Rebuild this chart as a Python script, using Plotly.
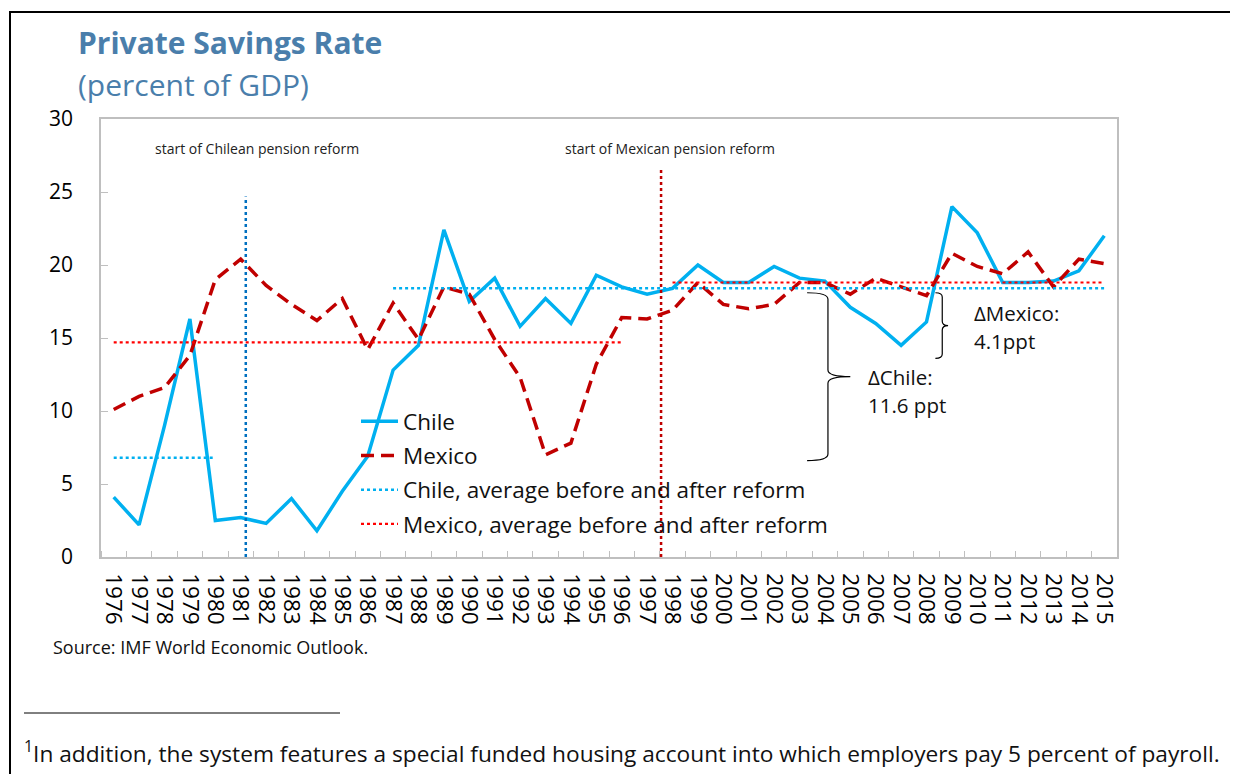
import plotly.graph_objects as go

years = list(range(1976, 2016))
chile = [4.1, 2.2, 9.0, 16.3, 2.5, 2.7, 2.3, 4.0, 1.8, 4.5,
         6.9, 12.8, 14.5, 22.4, 17.5, 19.1, 15.8, 17.7, 16.0, 19.3,
         18.5, 18.0, 18.4, 20.0, 18.8, 18.8, 19.9, 19.1, 18.9, 17.1,
         16.0, 14.5, 16.1, 24.0, 22.2, 18.8, 18.8, 18.9, 19.6, 22.0]
mexico = [10.1, 11.0, 11.6, 13.8, 19.0, 20.4, 18.6, 17.3, 16.2, 17.7,
          14.2, 17.4, 14.9, 18.5, 18.0, 14.9, 12.3, 7.0, 7.8, 13.2,
          16.4, 16.3, 16.9, 18.8, 17.3, 17.0, 17.3, 18.8, 18.8, 18.0,
          19.1, 18.5, 17.9, 20.8, 19.9, 19.4, 20.9, 18.5, 20.4, 20.1]

chile_avg_before, chile_avg_after = 6.8, 18.4
mexico_avg_before, mexico_avg_after = 14.7, 18.8
chile_before_span = (1976, 1980)
chile_after_span = (1987, 2015)
mexico_before_span = (1976, 1996)
mexico_after_span = (1998, 2015)
chile_reform_x, chile_reform_top = 1981.2, 24.7
mexico_reform_x, mexico_reform_top = 1997.55, 26.5

FONT = "Open Sans"
OFF = 8  # page body margin
L, R, T, B = 101, 1117, 119, 557   # plot area in page pixels
W, H = 1238, 774


def px(xp):
    return (xp - L) / (R - L)


def py(yp):
    return (B - yp) / (B - T)


fig = go.Figure()

fig.add_trace(go.Scatter(x=years, y=chile, mode="lines", name="Chile",
                         legendgroup="a",
                         line=dict(color="#00B0F0", width=3.5)))
fig.add_trace(go.Scatter(x=years, y=mexico, mode="lines", name="Mexico",
                         legendgroup="b",
                         line=dict(color="#C00000", width=3.5, dash="13px,7px")))
fig.add_trace(go.Scatter(
    x=[chile_before_span[0], chile_before_span[1], None, chile_after_span[0], chile_after_span[1]],
    y=[chile_avg_before, chile_avg_before, None, chile_avg_after, chile_avg_after],
    mode="lines", name="Chile, average before and after reform", legendgroup="c",
    line=dict(color="#00B0F0", width=2.5, dash="dot")))
fig.add_trace(go.Scatter(
    x=[mexico_before_span[0], mexico_before_span[1], None, mexico_after_span[0], mexico_after_span[1]],
    y=[mexico_avg_before, mexico_avg_before, None, mexico_avg_after, mexico_avg_after],
    mode="lines", name="Mexico, average before and after reform", legendgroup="d",
    line=dict(color="#FF0000", width=2.2, dash="dot")))

shapes = []
shapes.append(dict(type="line", xref="x", yref="y", x0=chile_reform_x, x1=chile_reform_x,
                   y0=0, y1=chile_reform_top, line=dict(color="#0070C0", width=2.5, dash="dot")))
shapes.append(dict(type="line", xref="x", yref="y", x0=mexico_reform_x, x1=mexico_reform_x,
                   y0=0, y1=mexico_reform_top, line=dict(color="#C00000", width=2.5, dash="dot")))


def brace(xl, xv, xt, ytop, ybot, d=0.45):
    ymid = (ytop + ybot) / 2
    p = (f"M {xl},{ytop} Q {xv},{ytop} {xv},{ytop - d} "
         f"L {xv},{ymid + d} Q {xv},{ymid} {xt},{ymid} "
         f"Q {xv},{ymid} {xv},{ymid - d} "
         f"L {xv},{ybot + d} Q {xv},{ybot} {xl},{ybot}")
    return dict(type="path", xref="x", yref="y", path=p,
                line=dict(color="black", width=1.2))


shapes.append(brace(2003.3, 2004.12, 2005.0, chile_avg_after - 0.3, chile_avg_before - 0.2))
shapes.append(brace(2008.35, 2008.62, 2008.85, chile_avg_after - 0.3, 13.6, d=0.3))

# outer frame
shapes.append(dict(type="rect", xref="paper", yref="paper",
                   x0=px(10), x1=px(1236), y0=py(12), y1=py(800),
                   line=dict(color="black", width=2)))
# footnote separator
shapes.append(dict(type="line", xref="paper", yref="paper",
                   x0=px(24), x1=px(340), y0=py(713), y1=py(713),
                   line=dict(color="black", width=1)))

TXT = "#111111"
annotations = [
    dict(text="<b>Private Savings Rate</b>", xref="paper", yref="paper",
         x=px(76), y=py(43), xanchor="left", yanchor="middle", showarrow=False,
         font=dict(family=FONT, size=30, color="#4A7EAB")),
    dict(text="(percent of GDP)", xref="paper", yref="paper",
         x=px(76), y=py(84), xanchor="left", yanchor="middle", showarrow=False,
         font=dict(family=FONT, size=30, color="#4A7EAB")),
    dict(text="start of Chilean pension reform", xref="x", yref="y",
         x=1981.64, y=27.95, xanchor="center", yanchor="middle", showarrow=False,
         font=dict(family=FONT, size=14, color="#222222")),
    dict(text="start of Mexican pension reform", xref="x", yref="y",
         x=1997.9, y=28.0, xanchor="center", yanchor="middle", showarrow=False,
         font=dict(family=FONT, size=14, color="#222222")),
    dict(text="ΔChile:", xref="x", yref="y", x=2005.6, y=12.33,
         xanchor="left", yanchor="middle", showarrow=False,
         font=dict(family=FONT, size=20.5, color=TXT)),
    dict(text="11.6 ppt", xref="x", yref="y", x=2005.6, y=10.41,
         xanchor="left", yanchor="middle", showarrow=False,
         font=dict(family=FONT, size=20.5, color=TXT)),
    dict(text="ΔMexico:", xref="x", yref="y", x=2009.8, y=16.71,
         xanchor="left", yanchor="middle", showarrow=False,
         font=dict(family=FONT, size=20.5, color=TXT)),
    dict(text="4.1ppt", xref="x", yref="y", x=2009.8, y=14.79,
         xanchor="left", yanchor="middle", showarrow=False,
         font=dict(family=FONT, size=20.5, color=TXT)),
    dict(text="Source: IMF World Economic Outlook.", xref="paper", yref="paper",
         x=px(51), y=py(647), xanchor="left", yanchor="middle", showarrow=False,
         font=dict(family=FONT, size=18, color=TXT)),
    dict(text="<sup>1</sup>In addition, the system features a special funded housing account into which employers pay 5 percent of payroll.",
         xref="paper", yref="paper",
         x=px(22), y=py(752), xanchor="left", yanchor="middle", showarrow=False,
         font=dict(family=FONT, size=22.7, color=TXT)),
]

fig.update_layout(
    width=W - OFF, height=H - OFF,
    margin=dict(l=L - OFF, r=W - R, t=T - OFF, b=H - B, pad=0),
    paper_bgcolor="white", plot_bgcolor="white",
    font=dict(family=FONT, color="black"),
    showlegend=True,
    legend=dict(x=px(356), y=py(400), xanchor="left", yanchor="top",
                bgcolor="rgba(0,0,0,0)", borderwidth=0,
                font=dict(family=FONT, size=22.5, color=TXT),
                tracegroupgap=2, itemwidth=37),
    shapes=shapes, annotations=annotations,
    xaxis=dict(range=[1975.5, 2015.5], tickmode="array", tickvals=years,
               ticktext=[str(y) for y in years], tickangle=90, ticks="",
               tickfont=dict(family=FONT, size=22.5, color="black"),
               showgrid=False, zeroline=False, showline=True, mirror=True,
               linecolor="#BFBFBF", linewidth=1.5, ticklabelstandoff=10,
               minor=dict(tick0=1975.5, dtick=1, ticks="inside", ticklen=6,
                          tickcolor="#BFBFBF", tickwidth=1, showgrid=False)),
    yaxis=dict(range=[0, 30], tickvals=[0, 5, 10, 15, 20, 25, 30],
               ticks="inside", ticklen=7, tickcolor="#BFBFBF",
               tickfont=dict(family=FONT, size=21, color="black"),
               showgrid=False, zeroline=False, showline=True, mirror=True,
               linecolor="#BFBFBF", linewidth=1.5, ticklabelstandoff=22),
)

fig.write_html("out.html")
